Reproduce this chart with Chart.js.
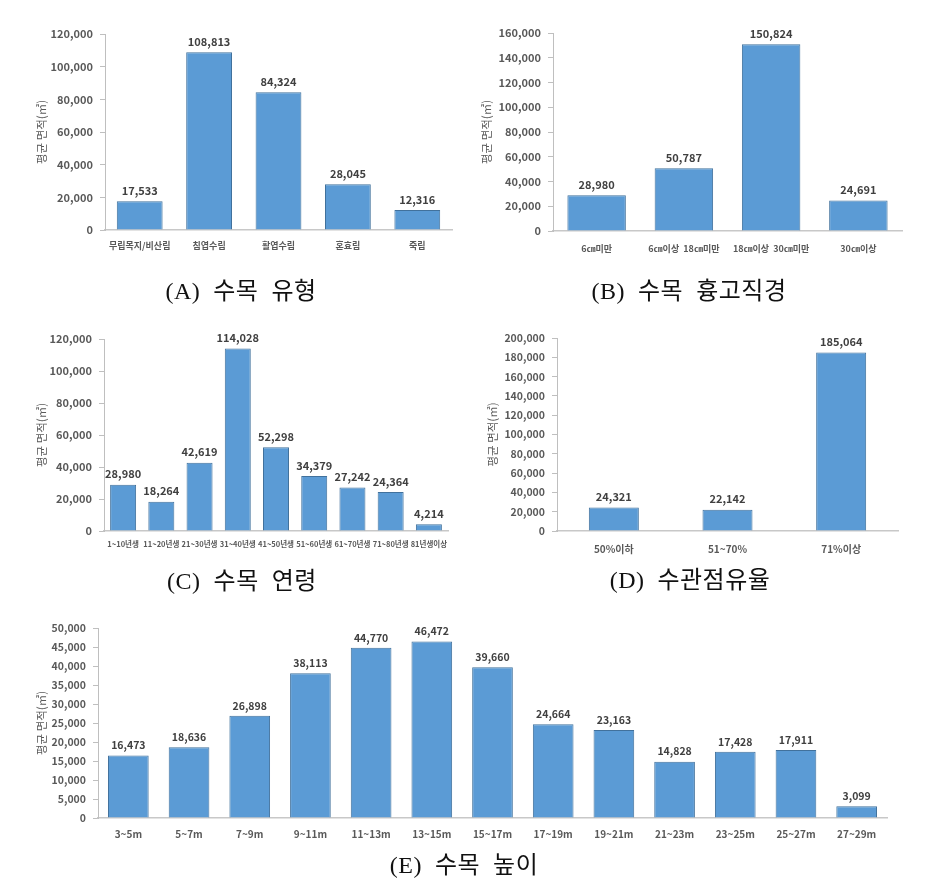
<!DOCTYPE html>
<html>
<head>
<meta charset="utf-8">
<script src="https://cdn.jsdelivr.net/npm/chart.js@4.4.0/dist/chart.umd.min.js"></script>
<style>
body { margin: 0; background: #fff; }
#wrap { position: relative; width: 926px; height: 890px; }
canvas { position: absolute; }
.cap { position: absolute; transform: translate(-50%, -50%); font-family: 'Liberation Serif', 'Noto Sans CJK KR', serif; font-size: 24px; letter-spacing: 0.5px; color: #111; white-space: pre; }
</style>
</head>
<body>
<div id="wrap">
  <canvas id="chartA" width="460" height="270" style="left:0;top:0"></canvas>
  <canvas id="chartB" width="466" height="270" style="left:460px;top:0"></canvas>
  <canvas id="chartC" width="460" height="270" style="left:0;top:300px"></canvas>
  <canvas id="chartD" width="466" height="270" style="left:460px;top:300px"></canvas>
  <canvas id="chartE" width="926" height="250" style="left:0;top:600px"></canvas>
  <div class="cap" style="left:241px;top:288px">(A)  수목  유형</div>
  <div class="cap" style="left:689px;top:288px">(B)  수목  흉고직경</div>
  <div class="cap" style="left:242px;top:578px">(C)  수목  연령</div>
  <div class="cap" style="left:690px;top:577px">(D)  수관점유율</div>
  <div class="cap" style="left:464px;top:862px">(E)  수목  높이</div>
</div>
<script>
const FONT = "'Noto Sans CJK KR', 'Noto Sans', sans-serif";
const yTitle = '평균 면적(㎡)';

// (A) 수목 유형
const typeLabels = ['무립목지/비산림', '침엽수림', '활엽수림', '혼효림', '죽림'];
const typeValues = [17533, 108813, 84324, 28045, 12316];

// (B) 수목 흉고직경
const dbhLabels = ['6㎝미만', '6㎝이상  18㎝미만', '18㎝이상  30㎝미만', '30㎝이상'];
const dbhValues = [28980, 50787, 150824, 24691];

// (C) 수목 연령
const ageLabels = ['1~10년생', '11~20년생', '21~30년생', '31~40년생', '41~50년생', '51~60년생', '61~70년생', '71~80년생', '81년생이상'];
const ageValues = [28980, 18264, 42619, 114028, 52298, 34379, 27242, 24364, 4214];

// (D) 수관점유율
const crownLabels = ['50%이하', '51~70%', '71%이상'];
const crownValues = [24321, 22142, 185064];

// (E) 수목 높이
const heightLabels = ['3~5m', '5~7m', '7~9m', '9~11m', '11~13m', '13~15m', '15~17m', '17~19m', '19~21m', '21~23m', '23~25m', '25~27m', '27~29m'];
const heightValues = [16473, 18636, 26898, 38113, 44770, 46472, 39660, 24664, 23163, 14828, 17428, 17911, 3099];

const valueLabels = {
    id: 'valueLabels',
    afterDatasetsDraw(chart, args, opts) {
        const ctx = chart.ctx;
        const meta = chart.getDatasetMeta(0);
        const data = chart.data.datasets[0].data;
        ctx.save();
        ctx.font = `bold ${opts.size}px ${FONT}`;
        ctx.fillStyle = '#404040';
        ctx.textAlign = 'center';
        ctx.textBaseline = 'bottom';
        meta.data.forEach((bar, i) => {
            ctx.fillText(data[i].toLocaleString('en-US'), bar.x, bar.y - 5);
        });
        ctx.restore();
    }
};

function makeChart(id, labels, values, o) {
    return new Chart(document.getElementById(id), {
        type: 'bar',
        data: {
            labels: labels,
            datasets: [{
                data: values,
                backgroundColor: '#5b9bd5',
                borderColor: '#41719c',
                borderWidth: 1,
                categoryPercentage: 1,
                barPercentage: o.bar
            }]
        },
        options: {
            responsive: false,
            animation: false,
            layout: { padding: { left: 0, top: o.top, right: o.right, bottom: 0 } },
            plugins: {
                legend: { display: false },
                tooltip: { enabled: false },
                valueLabels: { size: o.valSize }
            },
            scales: {
                x: {
                    ticks: { color: '#595959', font: { size: o.xSize, weight: 'bold', family: FONT }, padding: o.xPad, maxRotation: 0, autoSkip: false },
                    grid: { display: false },
                    border: { display: true, color: '#c8c8c8', width: 1.5 },
                    afterFit: s => { s.height = o.xH; }
                },
                y: {
                    min: 0,
                    max: o.max,
                    ticks: { stepSize: o.step, color: '#595959', font: { size: o.ySize, weight: 'bold', family: FONT }, padding: 7, callback: v => v.toLocaleString('en-US') },
                    grid: { display: true, drawOnChartArea: false, drawTicks: true, tickLength: 5, color: '#bfbfbf' },
                    border: { display: true, color: '#bfbfbf', width: 1 },
                    title: { display: true, text: yTitle, color: '#595959', font: { size: 11.5, family: FONT }, padding: { top: o.titleX - 7, bottom: 0 } },
                    afterFit: s => { s.width = o.yW; }
                }
            }
        },
        plugins: [valueLabels]
    });
}

makeChart('chartA', typeLabels, typeValues, { bar: 0.66, top: 34, right: 8, xH: 40, yW: 105, max: 120000, step: 20000, xSize: 9, xPad: 2, ySize: 11, valSize: 11, titleX: 42 });
makeChart('chartB', dbhLabels, dbhValues, { bar: 0.67, top: 33, right: 24, xH: 39, yW: 93, max: 160000, step: 20000, xSize: 9, xPad: 4, ySize: 11, valSize: 11, titleX: 27 });
makeChart('chartC', ageLabels, ageValues, { bar: 0.68, top: 39, right: 12, xH: 39, yW: 104, max: 120000, step: 20000, xSize: 7.5, xPad: 1, ySize: 11, valSize: 11, titleX: 42 });
makeChart('chartD', crownLabels, crownValues, { bar: 0.44, top: 38, right: 28, xH: 39, yW: 97, max: 200000, step: 20000, xSize: 10, xPad: 4, ySize: 10.5, valSize: 11, titleX: 33 });
makeChart('chartE', heightLabels, heightValues, { bar: 0.67, top: 28, right: 39, xH: 32, yW: 98, max: 50000, step: 5000, xSize: 10, xPad: 2, ySize: 10.5, valSize: 10.5, titleX: 42 });
</script>
</body>
</html>
